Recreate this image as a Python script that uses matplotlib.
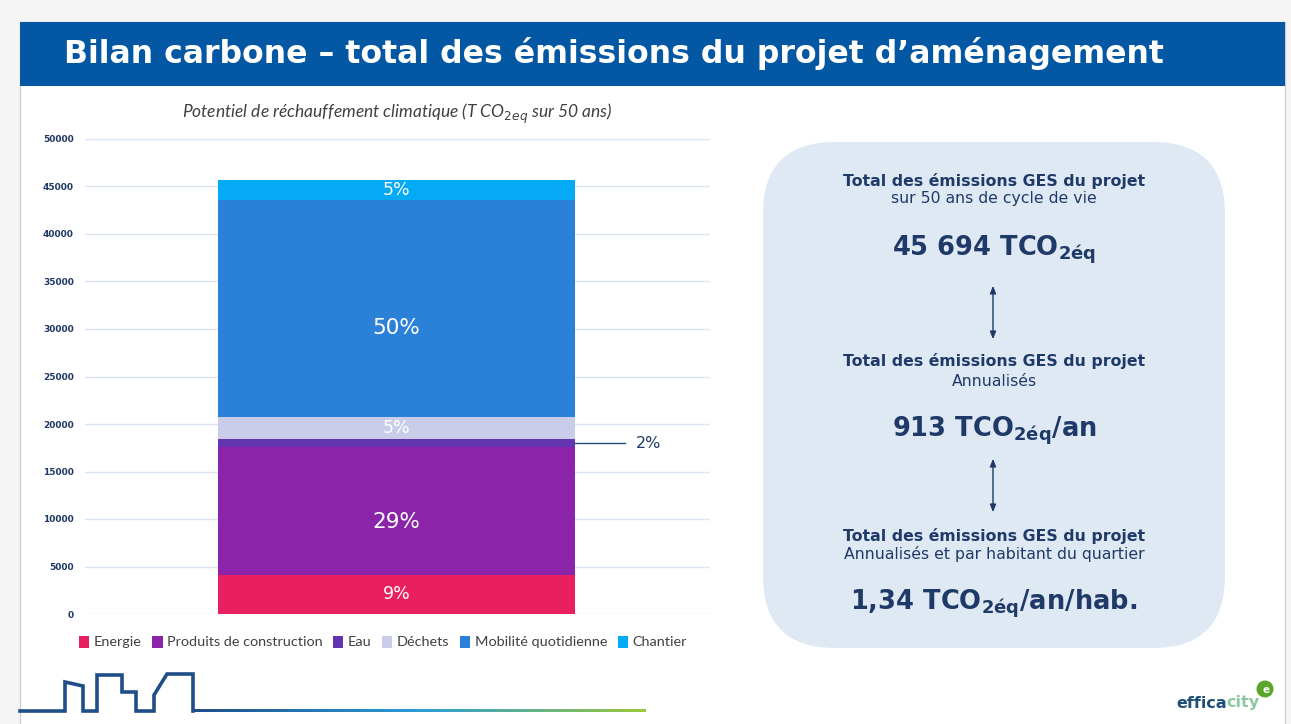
import numpy as np
import matplotlib
matplotlib.use("Agg")
from matplotlib import pyplot as plt
from matplotlib.patches import Rectangle, FancyBboxPatch, Patch, Circle

# Données : émissions par poste (T CO2eq sur 50 ans)
categories = ['Energie', 'Produits de construction', 'Eau', 'Déchets',
              'Mobilité quotidienne', 'Chantier']
values = [4150, 13380, 880, 2300, 22880, 2104]
colors = ['#e91f60', '#8b24a8', '#6334b0', '#c9cde9', '#2b80d8', '#05aaf4']
y_ticks = [0, 5000, 10000, 15000, 20000, 25000, 30000, 35000, 40000, 45000, 50000]

total_text = '45 694'
annual_text = '913'
per_hab_text = '1,34'

navy = '#1f3a68'
W, H = 1291, 724

fig = plt.figure(figsize=(W / 100, H / 100), dpi=100, facecolor='#f5f5f5')

# fond de la diapositive (coordonnées en pixels)
bg = fig.add_axes([0, 0, 1, 1], zorder=0)
bg.axis('off')
bg.add_patch(Rectangle((20, 22), 1265, 710, facecolor='white', edgecolor='#d0d0d0', lw=1))
bg.add_patch(Rectangle((20, 22), 1265, 64, facecolor='#0457a3', edgecolor='none'))
bg.text(64, 54, 'Bilan carbone – total des émissions du projet d’aménagement',
        color='white', fontsize=22.7, fontweight='bold', family='DejaVu Sans',
        ha='left', va='center')

# encadré de droite
bg.add_patch(FancyBboxPatch((763, 142), 462, 506,
                            boxstyle='round,pad=0,rounding_size=72',
                            facecolor='#dfe9f4', edgecolor='none'))
cx = 994
blocks = [
    (181, 199, 'sur 50 ans de cycle de vie', 250, total_text + ' TCO$_{\\mathbf{2éq}}$'),
    (361, 381, 'Annualisés', 431, annual_text + ' TCO$_{\\mathbf{2éq}}$/an'),
    (536, 554, 'Annualisés et par habitant du quartier', 604,
     per_hab_text + ' TCO$_{\\mathbf{2éq}}$/an/hab.'),
]
for y1, y2, sub, y3, big in blocks:
    bg.text(cx, y1, 'Total des émissions GES du projet', color=navy, fontsize=11.3,
            fontweight='bold', ha='center', va='center')
    bg.text(cx, y2, sub, color=navy, fontsize=11.3, ha='center', va='center')
    bg.text(cx, y3, big, color=navy, fontsize=18.5, fontweight='bold',
            ha='center', va='center')
for ya, yb in [(283, 342), (456, 515)]:
    bg.annotate('', xy=(cx - 1, ya), xytext=(cx - 1, yb),
                arrowprops=dict(arrowstyle='<|-|>,head_length=0.45,head_width=0.18',
                                color=navy, lw=1))

# ligne de quartier en bas
sky_x = [20, 65, 65, 83, 83, 97, 97, 122, 122, 136, 136, 154, 154, 167, 193, 193]
sky_y = [711, 711, 682, 686, 711, 711, 675, 675, 692, 692, 711, 711, 695, 674, 674, 711]
bg.plot(sky_x, sky_y, color='#1f4e89', lw=2.6, solid_joinstyle='miter', zorder=3)
stops = np.array([[0x1f, 0x4e, 0x89], [0x2b, 0x9c, 0xd8], [0x9c, 0xc8, 0x3a]]) / 255
t = np.linspace(0, 1, 200)
grad = np.stack([np.interp(t, [0, 0.5, 1], stops[:, k]) for k in range(3)], axis=-1)
bg.imshow(grad[np.newaxis, :, :], extent=(192, 646, 712.3, 709.7), aspect='auto',
          interpolation='bilinear', zorder=3)

# logo
t1 = bg.text(1176, 703, 'effica', color='#1f4e79', fontsize=11.5, fontweight='bold',
             ha='left', va='center', family='DejaVu Sans')
bg.annotate('city', xy=(1, 0.5), xycoords=t1, color='#8cc8a0', fontsize=11.5,
            fontweight='bold', ha='left', va='center', family='DejaVu Sans')
bg.add_patch(Circle((1265, 689), 8.5, facecolor='#5aa629', edgecolor='none'))
bg.text(1266, 690, 'e', color='white', fontsize=7.5, fontweight='bold',
        ha='center', va='center')

bg.set_xlim(0, W)
bg.set_ylim(H, 0)

# graphique empilé
ax = fig.add_axes([85 / W, (H - 614) / H, 625 / W, 475 / H], zorder=2)
ax.patch.set_alpha(0)
bottoms = np.concatenate([[0], np.cumsum(values)[:-1]])
total = sum(values)
bx, bw = 0.4984, 0.571
ax.bar([bx] * len(values), values, width=bw, bottom=bottoms, color=colors,
       linewidth=0, zorder=2)
for v, b, cat in zip(values, bottoms, categories):
    pct = '{:.0f}%'.format(v / total * 100)
    if cat == 'Eau':
        ax.plot([bx + bw / 2, 0.864], [b + v / 2] * 2, color='#1f4e79', lw=1,
                clip_on=False)
        ax.text(0.882, b + v / 2, pct, color=navy, fontsize=11.5, va='center',
                ha='left')
        continue
    if v / total > 0.2:
        ax.text(bx, b + v * 0.41, pct, color='white', fontsize=15.5, ha='center',
                va='center', zorder=3)
    else:
        ax.text(bx, b + v / 2, pct, color='white', fontsize=12.5, ha='center',
                va='center', zorder=3)

ax.set_xlim(0, 1)
ax.set_ylim(0, 50000)
ax.set_yticks(y_ticks)
ax.set_yticklabels([str(t) for t in y_ticks], fontweight='bold')
ax.set_xticks([])
ax.grid(axis='y', color='#d9e5f5', lw=1, zorder=0)
ax.tick_params(axis='y', length=0, pad=8, labelsize=6.5, labelcolor='#1f3864')
for s in ax.spines.values():
    s.set_visible(False)

ax.set_title('Potentiel de réchauffement climatique (T CO$_{2eq}$ sur 50 ans)',
             family='Lato', style='italic', fontsize=12.5, color='#404040', pad=15)

handles = [Patch(facecolor=c, edgecolor='none') for c in colors]
fig.legend(handles, categories, loc='center', bbox_to_anchor=(383 / W, 1 - 642 / H),
           ncol=6, frameon=False, prop={'family': 'Lato', 'size': 10.4},
           handlelength=0.7, handleheight=0.9, handletextpad=0.3,
           columnspacing=0.75, labelcolor='#404040')

fig.savefig('out.png', dpi=100, facecolor=fig.get_facecolor())
